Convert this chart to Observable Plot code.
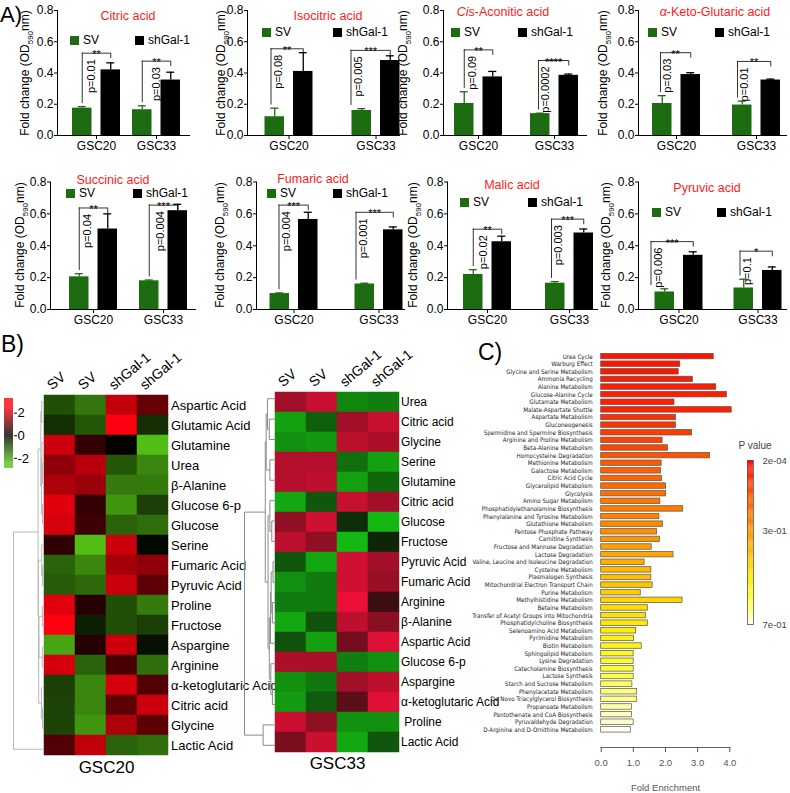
<!DOCTYPE html>
<html><head><meta charset="utf-8">
<script src="https://cdn.jsdelivr.net/npm/d3@7"></script>
<script src="https://cdn.jsdelivr.net/npm/@observablehq/plot@0.6"></script>
<style>
body{margin:0;background:#fff;}
#root{position:relative;width:790px;height:793px;overflow:hidden;font-family:"Liberation Sans",Arial,sans-serif;background:#fff;}
.t{position:absolute;white-space:nowrap;line-height:1;transform:translate(-50%,-50%);}
.l{position:absolute;white-space:nowrap;line-height:1;transform:translate(0,-50%);}
.sw{position:absolute;width:9px;height:9px;}
svg{overflow:visible}
</style></head><body><div id="root"></div><script>
// ---------------- DATA ----------------
const acids = ["Citric acid","Isocitric acid","Cis-Aconitic acid","α-Keto-Glutaric acid","Succinic acid","Fumaric acid","Malic acid","Pyruvic acid"];
const cellLines = ["GSC20","GSC33"];
const conditions = ["SV","shGal-1"];
const svMean = [[0.175,0.165],[0.12,0.16],[0.205,0.14],[0.205,0.195],[0.205,0.18],[0.10,0.16],[0.22,0.165],[0.11,0.135]];
const svErr  = [[0.01,0.025],[0.055,0.012],[0.075,0.003],[0.05,0.025],[0.02,0.005],[0.004,0.005],[0.03,0.01],[0.02,0.055]];
const shMean = [[0.42,0.355],[0.41,0.48],[0.375,0.385],[0.39,0.355],[0.505,0.62],[0.565,0.50],[0.425,0.48],[0.34,0.245]];
const shErr  = [[0.045,0.05],[0.12,0.03],[0.035,0.008],[0.012,0.006],[0.095,0.04],[0.045,0.018],[0.035,0.025],[0.022,0.022]];
const pLabels = [["p=0.01","p=0.03"],["p=0.08","p=0.005"],["p=0.09","p=0.0002"],["p=0.03","p=0.01"],["p=0.04","p=0.004"],["p=0.004","p=0.001"],["p=0.02","p=0.003"],["p=0.006","p=0.1"]];
const starLabels = [["**","**"],["**","***"],["**","****"],["**","**"],["**","***"],["***","***"],["**","***"],["***","*"]];
const bracketLevel = [[0.527,0.476],[0.555,0.545],[0.548,0.48],[0.53,0.474],[0.637,0.655],[0.655,0.61],[0.504,0.567],[0.426,0.366]];
const yTicksA = [0,0.2,0.4,0.6,0.8];

const sampleCols = ["SV","SV","shGal-1","shGal-1"];
const leftRows = ["Aspartic Acid","Glutamic Acid","Glutamine","Urea","β-Alanine","Glucose 6-p","Glucose","Serine","Fumaric Acid","Pyruvic Acid","Proline","Fructose","Aspargine","Arginine","α-ketoglutaric Acid","Citric acid","Glycine","Lactic Acid"];
const leftZ = [
[-1.0,-1.5,1.9,1.0],[-0.6,-1.1,2.5,-0.6],[2.0,0.5,0.05,-2.4],[1.4,1.8,-1.1,-1.7],[1.7,1.5,-1.55,-1.55],
[2.2,0.5,-1.9,-0.8],[2.1,0.6,-1.25,-1.4],[0.45,-2.4,2.0,-0.1],[-1.25,-1.7,1.6,1.4],[-1.15,-1.35,2.0,0.9],
[2.2,0.35,-1.0,-1.55],[2.5,-0.4,-1.0,-0.8],[-2.1,0.35,2.0,-0.2],[2.1,-1.25,0.7,-1.4],[-0.8,-1.7,2.1,0.8],
[-0.85,-1.7,0.9,2.0],[-0.85,-1.9,1.7,0.9],[0.8,1.9,-1.25,-1.4]];
const rightRows = ["Urea","Citric acid","Glycine","Serine","Glutamine","Citric acid","Glucose","Fructose","Pyruvic Acid","Fumaric Acid","Arginine","β-Alanine","Aspartic Acid","Glucose 6-p","Aspargine","α-ketoglutaric Acid","\u00A0Proline","Lactic Acid"];
const rightZ = [
[1.6,2.0,-1.5,-1.4],[-1.8,-1.0,1.6,2.0],[-1.6,-1.7,1.9,1.7],[1.8,1.8,-1.2,-1.8],[1.8,1.9,-1.8,-1.1],
[-1.9,-0.9,2.0,1.6],[1.4,2.1,-0.4,-2.1],[1.9,1.4,-2.1,-0.3],[-0.9,-1.9,2.1,1.6],[-1.6,-1.35,2.1,1.5],
[-1.35,-1.35,2.4,0.5],[-1.9,-0.85,1.9,1.35],[-0.85,-1.8,1.1,2.25],[1.7,1.7,-1.4,-1.6],[-1.6,-1.3,1.6,1.9],
[-1.75,-0.95,0.85,2.25],[2.05,1.4,-1.6,-1.6],[1.2,2.05,-1.9,-0.9]];
const zTicks = [-2,0,2];
// dendrograms: [childA, childB, height]; negative = leaf (1-based), positive = earlier merge (1-based)
const leftMerges = [[-1,-2,0.06],[-4,-5,0.03],[-6,-7,0.03],[-3,2,0.05],[4,3,0.07],[1,5,0.09],[-9,-10,0.03],[-8,7,0.06],
[-11,-12,0.04],[-13,-14,0.04],[9,10,0.15],[-16,-17,0.03],[-15,12,0.07],[11,13,0.16],[8,14,0.17],[6,15,0.18],[16,-18,1.0]];
const rightMerges = [[-2,-3,0.2],[-1,1,0.26],[-4,-5,0.18],[2,3,0.3],[-7,-8,0.12],[-6,5,0.18],[-9,-10,0.08],[-11,-12,0.1],
[7,8,0.14],[9,-13,0.16],[-15,-16,0.1],[-14,11,0.15],[10,12,0.2],[6,13,0.24],[4,14,0.33],[-17,-18,0.4],[15,16,1.0]];

const pathways = ["Urea Cycle","Warburg Effect","Glycine and Serine Metabolism","Ammonia Recycling","Alanine Metabolism","Glucose-Alanine Cycle","Glutamate Metabolism","Malate-Aspartate Shuttle","Aspartate Metabolism","Gluconeogenesis","Spermidine and Spermine Biosynthesis","Arginine and Proline Metabolism","Beta-Alanine Metabolism","Homocysteine Degradation","Methionine Metabolism","Galactose Metabolism","Citric Acid Cycle","Glycerolipid Metabolism","Glycolysis","Amino Sugar Metabolism","Phosphatidylethanolamine Biosynthesis","Phenylalanine and Tyrosine Metabolism","Glutathione Metabolism","Pentose Phosphate Pathway","Carnitine Synthesis","Fructose and Mannose Degradation","Lactose Degradation","Valine, Leucine and Isoleucine Degradation","Cysteine Metabolism","Plasmalogen Synthesis","Mitochondrial Electron Transport Chain","Purine Metabolism","Methylhistidine Metabolism","Betaine Metabolism","Transfer of Acetyl Groups into Mitochondria","Phosphatidylcholine Biosynthesis","Selenoamino Acid Metabolism","Pyrimidine Metabolism","Biotin Metabolism","Sphingolipid Metabolism","Lysine Degradation","Catecholamine Biosynthesis","Lactose Synthesis","Starch and Sucrose Metabolism","Phenylacetate Metabolism","De Novo Triacylglycerol Biosynthesis","Propanoate Metabolism","Pantothenate and CoA Biosynthesis","Pyruvaldehyde Degradation","D-Arginine and D-Ornithine Metabolism"];
const foldEnrichment = [3.5,2.46,2.41,2.85,3.58,3.91,2.28,4.06,2.33,2.33,2.82,1.91,2.08,3.39,1.88,1.86,1.89,2.02,2.02,1.84,2.55,1.81,1.92,1.74,1.83,1.57,2.25,1.35,1.56,1.56,1.6,1.23,2.53,1.45,1.39,1.45,1.09,1.02,1.26,1.01,1.01,1.01,1.01,0.97,1.12,1.12,0.96,0.96,1.01,0.92];
const pathwayP = [0.031,0.034,0.038,0.041,0.044,0.047,0.05,0.053,0.075,0.08,0.094,0.105,0.114,0.149,0.161,0.173,0.184,0.198,0.212,0.227,0.241,0.255,0.269,0.283,0.302,0.32,0.339,0.358,0.381,0.395,0.409,0.426,0.443,0.461,0.474,0.487,0.5,0.52,0.53,0.55,0.57,0.585,0.6,0.615,0.63,0.64,0.655,0.665,0.68,0.695];
const pLegendTicks = [0.0002,0.3,0.7];
const pLegendLabels = ["2e-04","3e-01","7e-01"];
const feTicks = [0,1,2,3,4];

// ---------------- LAYOUT / STYLE ----------------
const W = 790, H = 793;
const GREEN = "#1e6c12";
const FONT = '"Liberation Sans", Arial, Helvetica, sans-serif';
const NARROW = '"Liberation Sans Narrow", "Arial Narrow", "DejaVu Sans Condensed", sans-serif';
const baseStyle = {background:"transparent", overflow:"visible", fontFamily:FONT, fontSize:"12px", color:"#000"};
const layoutA = [
 {ax:57, c1:96, c2:156, end:190, row:0, title:[128,16], legY:40, sw:[70,135], yl:27, pDx:[-5,0]},
 {ax:247, c1:288, c2:375, end:400, row:0, title:[328,16], legY:32, sw:[262,333], yl:223, pDx:[-11,-18]},
 {ax:443, c1:478, c2:554, end:587, row:0, title:[503,12], legY:32, sw:[451,518], yl:405, pDx:[-6,-9]},
 {ax:638, c1:676, c2:756, end:787, row:0, title:[715,12], legY:32, sw:[648,715], yl:605, pDx:[-9,-12]},
 {ax:50, c1:93, c2:163, end:196, row:1, title:[113,179.5], legY:193, sw:[66,133], yl:22, pDx:[-6,-3]},
 {ax:256, c1:293, c2:378, end:405, row:1, title:[313,179], legY:193, sw:[267,333], yl:222, pDx:[-8,-16]},
 {ax:447, c1:487, c2:569, end:598, row:1, title:[512,185], legY:202, sw:[460,528], yl:415, pDx:[-4,-11]},
 {ax:638, c1:678, c2:757, end:787, row:1, title:[707,188], legY:212, sw:[652,717], yl:608, pDx:[-21,-11]},
];
const rowY = [[10,135],[181.5,309]];

const root = document.getElementById("root");
function mount(svg){ svg.style.position="absolute"; svg.style.left="0px"; svg.style.top="0px"; svg.style.pointerEvents="none"; root.appendChild(svg); }
function html(cls, x, y, inner, css){ const d=document.createElement("div"); d.className=cls; d.style.left=x+"px"; d.style.top=y+"px"; d.innerHTML=inner; if(css) Object.assign(d.style, css); root.appendChild(d); return d; }

// ---------------- PANEL A ----------------
function plotA(i){
  const L = layoutA[i];
  const [yTop, yBot] = rowY[L.row];
  const s = L.c2 - L.c1, half = s/2, w = 19.5, g = 9, off = g/2 + w/2;
  const rows = cellLines.map((cl,j)=>({cl, j, sv:svMean[i][j], sve:svErr[i][j], sh:shMean[i][j], she:shErr[i][j], p:pLabels[i][j], st:starLabels[i][j], b:bracketLevel[i][j]}));
  const marks = [
    Plot.barY(rows,{x:"cl", y:"sv", fill:GREEN, insetLeft:half-g/2-w, insetRight:half+g/2}),
    Plot.barY(rows,{x:"cl", y:"sh", fill:"#000", insetLeft:half+g/2, insetRight:half-g/2-w}),
    Plot.ruleX(rows,{x:"cl", y1:"sv", y2:d=>d.sv+d.sve, dx:-off, stroke:GREEN, strokeWidth:1.3}),
    Plot.tickY(rows,{x:"cl", y:d=>d.sv+d.sve, dx:-off, insetLeft:half-4, insetRight:half-4, stroke:GREEN, strokeWidth:1.3}),
    Plot.ruleX(rows,{x:"cl", y1:"sh", y2:d=>d.sh+d.she, dx:off, stroke:"#000", strokeWidth:1.3}),
    Plot.tickY(rows,{x:"cl", y:d=>d.sh+d.she, dx:off, insetLeft:half-4, insetRight:half-4, stroke:"#000", strokeWidth:1.3}),
    Plot.ruleY([0],{stroke:"#000"}),
    Plot.frame({anchor:"left", stroke:"#000"}),
    Plot.axisY({ticks:yTicksA, tickFormat:d3.format(".1f"), tickSize:3, tickPadding:1, fontSize:12, label:null}),
    Plot.axisX({tickSize:4, tickPadding:2, fontSize:12, label:null})
  ];
  rows.forEach(r=>{
    const pdx = L.pDx[r.j];
    const legDx = Math.min(-off, pdx-7);
    marks.push(
      Plot.ruleX([r],{x:"cl", y1:d=>d.sv+d.sve+0.02, y2:"b", dx:legDx, stroke:"#000", strokeWidth:0.8}),
      Plot.tickY([r],{x:"cl", y:"b", insetLeft:half+legDx, insetRight:half-off, stroke:"#000", strokeWidth:0.8}),
      Plot.ruleX([r],{x:"cl", y1:d=>d.b-0.035, y2:"b", dx:off, stroke:"#000", strokeWidth:0.8}),
      Plot.text([r],{x:"cl", y:"b", text:"st", dx:(legDx+off)/2, lineAnchor:"bottom", dy:5, fontSize:11}),
      Plot.text([r],{x:"cl", y:"b", text:"p", rotate:-90, textAnchor:"end", dx:pdx, dy:6, fontSize:11})
    );
  });
  mount(Plot.plot({
    width:W, height:H, marginLeft:L.ax, marginRight:W-L.end, marginTop:yTop, marginBottom:H-yBot,
    x:{type:"band", domain:cellLines, range:[L.c1-half, L.c2+half], padding:0},
    y:{domain:[0,0.8]},
    style:baseStyle, marks
  }));
  const t = acids[i].replace(/^Cis/,"<i>Cis</i>").replace(/^α/,"<i>α</i>");
  html("t", L.title[0], L.title[1], t, {color:"#ff1a1a", fontSize:"12.5px"});
  html("sw", L.sw[0], L.legY-4.5, "", {background:GREEN});
  html("l", L.sw[0]+13, L.legY, conditions[0], {fontSize:"12px"});
  html("sw", L.sw[1], L.legY-4.5, "", {background:"#000"});
  html("l", L.sw[1]+13, L.legY, conditions[1], {fontSize:"12px"});
  html("t", L.yl, (yTop+yBot)/2, "Fold change (OD<sub style='font-size:8px'>590</sub>nm)", {fontSize:"12px", transform:"translate(-50%,-50%) rotate(-90deg)"});
}
acids.forEach((_,i)=>plotA(i));

// ---------------- PANEL B ----------------
const leftColor = {type:"linear", domain:[-2.5,0,2.5], range:["#55c515","#000000","#ff0010"], clamp:true};
const rightColor = {type:"linear", domain:[-2.5,0,2.5], range:["#15d915","#0d0d08","#f5103a"], clamp:true};

function heat(rowsNames, Z, color, x0, x1, y0, y1, labelFS, name){
  const cells = [];
  Z.forEach((row,r)=>row.forEach((z,c)=>cells.push({r,c,z})));
  mount(Plot.plot({
    width:W, height:H, marginLeft:x0, marginRight:W-x1, marginTop:y0, marginBottom:H-y1,
    x:{type:"band", domain:[0,1,2,3], padding:0, axis:null},
    y:{type:"band", domain:d3.range(rowsNames.length), padding:0},
    color, style:baseStyle,
    marks:[
      Plot.cell(cells,{x:"c", y:"r", fill:"z", stroke:"z", strokeWidth:0.5, inset:0}),
      Plot.axisY({anchor:"right", tickSize:0, tickPadding:1.5, tickFormat:i=>rowsNames[i], fontSize:labelFS, label:null}),
      Plot.text(sampleCols.map((s,i)=>({s,i})),{x:"i", text:"s", frameAnchor:"top", lineAnchor:"bottom", rotate:-40, textAnchor:"start", dx:-8, dy:-1, fontSize:14}),
      Plot.text([name],{frameAnchor:"bottom", lineAnchor:"top", dy:1, fontSize:17})
    ]
  }));
}
heat(leftRows, leftZ, leftColor, 43, 169, 391, 759, 13, "GSC20");
heat(rightRows, rightZ, rightColor, 275, 399, 388, 755, 12, "GSC33");

function dendroSegments(merges){
  const nodes = [], segs = [];
  const pos = k => k < 0 ? {y:-k-0.5, h:0} : nodes[k-1];
  merges.forEach(([a,b,h])=>{
    const A = pos(a), B = pos(b);
    segs.push({x1:A.h, y1:A.y, x2:h, y2:A.y});
    segs.push({x1:B.h, y1:B.y, x2:h, y2:B.y});
    segs.push({x1:h, y1:A.y, x2:h, y2:B.y});
    nodes.push({y:(A.y+B.y)/2, h});
  });
  return segs;
}
function dendro(merges, xr, yr, stroke){
  mount(Plot.plot({
    width:W, height:H,
    x:{domain:[0,1], range:xr, axis:null}, y:{domain:[0,18], range:yr, axis:null},
    style:baseStyle,
    marks:[Plot.link(dendroSegments(merges),{x1:"x1", y1:"y1", x2:"x2", y2:"y2", stroke, strokeWidth:1})]
  }));
}
dendro(leftMerges, [43,13], [391,759], "#b8b8b8");
dendro(rightMerges, [275,244], [388,755], "#8a8a8a");

// colour key B
const zStripes = d3.range(-2.9, 3.3, 0.05);
mount(Plot.plot({
  width:W, height:H, marginLeft:4, marginRight:W-13, marginTop:398, marginBottom:H-468,
  x:{domain:[0,1], axis:null}, y:{domain:[-2.9,3.3]}, color:leftColor, style:baseStyle,
  marks:[
    Plot.rect(zStripes,{x1:0, x2:1, y1:d=>d, y2:d=>d+0.055, fill:d=>d}),
    Plot.axisY({anchor:"right", ticks:zTicks, tickSize:3, tickPadding:1, fontSize:13, tickFormat:d=>String(d), label:null})
  ]
}));

// ---------------- PANEL C ----------------
const pColor = {type:"linear", domain:[0.0002,0.1,0.25,0.4,0.5,0.6,0.7], range:["#ff0000","#ff4000","#ff8000","#ffc000","#ffee00","#ffff40","#fffff5"], clamp:true};
const pdata = pathways.map((name,i)=>({name, fe:foldEnrichment[i], p:pathwayP[i]}));
mount(Plot.plot({
  width:W, height:H, marginLeft:600.7, marginRight:W-729.3, marginTop:351, marginBottom:H-747,
  x:{domain:[0,4]},
  y:{type:"band", domain:pathways, range:[351.2,734.2], padding:0.28},
  color:pColor, style:baseStyle,
  marks:[
    Plot.barX(pdata,{x:"fe", y:"name", fill:"p", stroke:"#555", strokeWidth:0.7}),
    Plot.axisY({anchor:"left", tickSize:0, tickPadding:8.5, fontSize:6.2, fontFamily:NARROW, color:"#222", label:null}),
    Plot.frame({anchor:"bottom", stroke:"#666"}),
    Plot.axisX({ticks:feTicks, tickSize:5, tickPadding:7, fontSize:9.5, color:"#555", label:null}),
    Plot.text(["Fold Enrichment"],{frameAnchor:"bottom", lineAnchor:"middle", dy:40, fontSize:9.5, fill:"#555"})
  ]
}));
const pStripes = d3.range(0.0002, 0.7, 0.004);
mount(Plot.plot({
  width:W, height:H, marginLeft:747, marginRight:W-753, marginTop:460, marginBottom:H-624,
  x:{domain:[0,1], axis:null}, y:{domain:[0.0002,0.7], reverse:true}, color:pColor, style:baseStyle,
  marks:[
    Plot.rect(pStripes,{x1:0, x2:1, y1:d=>d, y2:d=>Math.min(0.7,d+0.0045), fill:d=>d}),
    Plot.frame({stroke:"#555", strokeWidth:0.8}),
    Plot.axisY({anchor:"right", ticks:pLegendTicks, tickSize:0, tickPadding:9, fontSize:9.5, color:"#444", tickFormat:(d,i)=>pLegendLabels[i], label:null}),
    Plot.text(["P value"],{frameAnchor:"top-left", lineAnchor:"middle", textAnchor:"start", dx:-9, dy:-15, fontSize:10, fill:"#444"})
  ]
}));

// panel letters
html("l", 0, 15, "A)", {fontSize:"22px"});
html("l", 1, 344, "B)", {fontSize:"23px"});
html("l", 478, 352, "C)", {fontSize:"23px"});
</script></body></html>
